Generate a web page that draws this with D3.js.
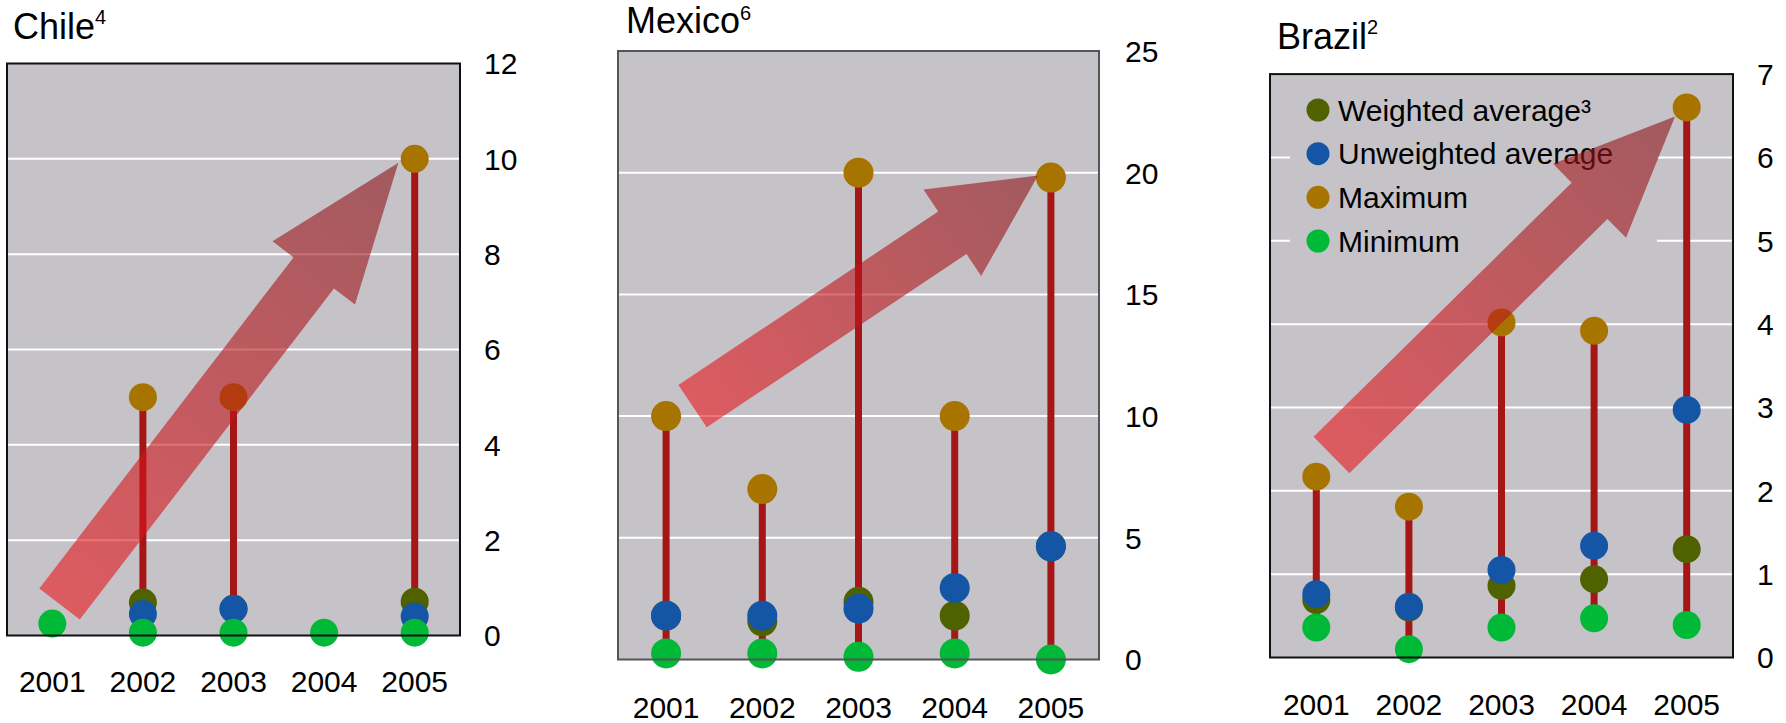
<!DOCTYPE html>
<html>
<head>
<meta charset="utf-8">
<script src="https://cdn.jsdelivr.net/npm/d3@7"></script>
<style>
  html, body { margin: 0; padding: 0; background: #ffffff; }
  svg { display: block; }
  text { font-family: "Liberation Sans", Arial, sans-serif; fill: #000; }
</style>
</head>
<body>
<svg id="chart" width="1786" height="723"></svg>
<script>
// Years shown on every panel
const years = ["2001", "2002", "2003", "2004", "2005"];

// Chile: tariff dispersion by year (null = not reported)
const chileWeighted   = [null, 0.69, 0.56, null, 0.71];
const chileUnweighted = [null, 0.45, 0.56, null, 0.40];
const chileMaximum    = [null, 5, 5, null, 10];
const chileMinimum    = [0.25, 0.06, 0.06, 0.06, 0.06];
const chileTicks      = [0, 2, 4, 6, 8, 10, 12];
const chileTrend      = [[0.08, 0.66], [3.82, 9.92]];

// Mexico
const mexicoWeighted   = [1.8, 1.57, 2.37, 1.8, 4.65];
const mexicoUnweighted = [1.8, 1.8, 2.09, 2.94, 4.65];
const mexicoMaximum    = [10, 7, 20, 10, 19.8];
const mexicoMinimum    = [0.25, 0.25, 0.11, 0.25, 0];
const mexicoTicks      = [0, 5, 10, 15, 20, 25];
const mexicoTrend      = [[0.275, 10.41], [3.866, 19.88]];

// Brazil
const brazilWeighted   = [0.69, 0.6, 0.86, 0.94, 1.3];
const brazilUnweighted = [0.76, 0.61, 1.05, 1.34, 2.97];
const brazilMaximum    = [2.17, 1.81, 4.02, 3.92, 6.6];
const brazilMinimum    = [0.36, 0.1, 0.36, 0.47, 0.39];
const brazilTicks      = [0, 1, 2, 3, 4, 5, 6, 7];
const brazilTrend      = [[0.164, 2.43], [3.874, 6.49]];

// Legend entries
const legendLabels = ["Weighted average³", "Unweighted average", "Maximum", "Minimum"];

const colors = {
  weighted: "#506100",
  unweighted: "#1455a6",
  maximum: "#a87400",
  minimum: "#00b936",
  stem: "#a61616",
  plotBg: "#c5c3c7",
  grid: "#ffffff"
};

const panels = [
  { name: "Chile", sup: "4", weighted: chileWeighted, unweighted: chileUnweighted,
    maximum: chileMaximum, minimum: chileMinimum, ticks: chileTicks, trend: chileTrend,
    box: { left: 7, right: 460, top: 63.5, bottom: 635.5 }, title: [13, 39.4], supRise: -15,
    tickX: 484, labelY: 692, r: 14, border: "#111", headLen: 139, legend: false },
  { name: "Mexico", sup: "6", weighted: mexicoWeighted, unweighted: mexicoUnweighted,
    maximum: mexicoMaximum, minimum: mexicoMinimum, ticks: mexicoTicks, trend: mexicoTrend,
    box: { left: 618, right: 1099, top: 51, bottom: 659.5 }, title: [626, 33], supRise: -13,
    tickX: 1125, labelY: 718, r: 15, border: "#555", headLen: 103, legend: false },
  { name: "Brazil", sup: "2", weighted: brazilWeighted, unweighted: brazilUnweighted,
    maximum: brazilMaximum, minimum: brazilMinimum, ticks: brazilTicks, trend: brazilTrend,
    box: { left: 1270, right: 1733, top: 74.1, bottom: 657.5 }, title: [1277, 48.7], supRise: -15,
    tickX: 1757, labelY: 715, r: 14, border: "#111", headLen: 120, legend: true }
];

const svg = d3.select("#chart");
const defs = svg.append("defs");

panels.forEach((p, pi) => {
  const b = p.box;
  const g = svg.append("g");
  const yMax = p.ticks[p.ticks.length - 1];

  const x = d3.scaleBand().domain(years).range([b.left, b.right]).padding(0);
  const y = d3.scaleLinear().domain([0, yMax]).range([b.bottom, b.top]);
  // fractional position along the year axis, used by the trend arrow
  const xi = d3.scaleLinear().domain([0, years.length - 1])
    .range([x(years[0]) + x.bandwidth() / 2, x(years[years.length - 1]) + x.bandwidth() / 2]);

  // plot background
  g.append("rect").attr("x", b.left).attr("y", b.top)
    .attr("width", b.right - b.left).attr("height", b.bottom - b.top)
    .attr("fill", colors.plotBg);

  // horizontal gridlines
  g.selectAll("line.grid").data(p.ticks.filter(t => t > 0 && t < yMax)).enter()
    .append("line").attr("class", "grid")
    .attr("x1", b.left).attr("x2", b.right)
    .attr("y1", d => y(d)).attr("y2", d => y(d))
    .attr("stroke", colors.grid).attr("stroke-width", 2);

  // legend (Brazil panel), its box hides the gridlines behind it
  if (p.legend) {
    const lg = g.append("g");
    lg.append("rect").attr("x", 1290).attr("y", 85).attr("width", 367).attr("height", 180)
      .attr("fill", colors.plotBg);
    const keys = ["weighted", "unweighted", "maximum", "minimum"];
    const ly = d3.scalePoint().domain(keys).range([110, 241]);
    keys.forEach((k, i) => {
      lg.append("circle").attr("cx", 1318).attr("cy", ly(k)).attr("r", 11.5)
        .attr("fill", colors[k]);
      lg.append("text").attr("x", 1338).attr("y", ly(k)).attr("dy", "0.36em")
        .style("font-size", "30px").text(legendLabels[i]);
    });
  }

  // stems from minimum to maximum
  const stems = years.map((yr, i) => ({ yr, lo: p.minimum[i], hi: p.maximum[i] }))
    .filter(d => d.lo != null && d.hi != null);
  g.selectAll("line.stem").data(stems).enter().append("line").attr("class", "stem")
    .attr("x1", d => x(d.yr) + x.bandwidth() / 2).attr("x2", d => x(d.yr) + x.bandwidth() / 2)
    .attr("y1", d => y(d.lo)).attr("y2", d => y(d.hi))
    .attr("stroke", colors.stem).attr("stroke-width", 7);

  // dots, drawn in series order
  ["weighted", "unweighted", "maximum", "minimum"].forEach(key => {
    const pts = years.map((yr, i) => ({ yr, v: p[key][i] })).filter(d => d.v != null);
    g.selectAll("circle." + key).data(pts).enter().append("circle").attr("class", key)
      .attr("cx", d => x(d.yr) + x.bandwidth() / 2).attr("cy", d => y(d.v))
      .attr("r", p.r).attr("fill", colors[key]);
  });

  // trend arrow
  const T = [xi(p.trend[0][0]), y(p.trend[0][1])];
  const P = [xi(p.trend[1][0]), y(p.trend[1][1])];
  const dx = P[0] - T[0], dy = P[1] - T[1];
  const len = Math.hypot(dx, dy);
  const u = [dx / len, dy / len];
  const n = [-u[1], u[0]];
  const shaft = 51, head = 104, hl = p.headLen;
  const B = [P[0] - u[0] * hl, P[1] - u[1] * hl];
  const pt = (base, k) => [base[0] + n[0] * k, base[1] + n[1] * k];
  const poly = [pt(T, shaft / 2), pt(B, shaft / 2), pt(B, head / 2), P,
                pt(B, -head / 2), pt(B, -shaft / 2), pt(T, -shaft / 2)];
  const gid = "trendGrad" + pi;
  const grad = defs.append("linearGradient").attr("id", gid)
    .attr("gradientUnits", "userSpaceOnUse")
    .attr("x1", T[0]).attr("y1", T[1]).attr("x2", P[0]).attr("y2", P[1]);
  grad.append("stop").attr("offset", "0%").attr("stop-color", "rgb(236,22,28)");
  grad.append("stop").attr("offset", "100%").attr("stop-color", "rgb(138,20,26)");
  g.append("path").attr("d", d3.line()(poly) + "Z")
    .attr("fill", `url(#${gid})`).attr("fill-opacity", 0.6);

  // frame
  g.append("rect").attr("x", b.left).attr("y", b.top)
    .attr("width", b.right - b.left).attr("height", b.bottom - b.top)
    .attr("fill", "none").attr("stroke", p.border).attr("stroke-width", 2);

  // right-hand value labels
  g.selectAll("text.tick").data(p.ticks).enter().append("text").attr("class", "tick")
    .attr("x", p.tickX).attr("y", d => y(d)).attr("dy", "0.36em")
    .style("font-size", "30px").text(d => d);

  // year labels
  g.selectAll("text.year").data(years).enter().append("text").attr("class", "year")
    .attr("x", d => x(d) + x.bandwidth() / 2).attr("y", p.labelY)
    .attr("text-anchor", "middle").style("font-size", "30px").text(d => d);

  // panel title with footnote mark
  const t = g.append("text").attr("x", p.title[0]).attr("y", p.title[1])
    .style("font-size", "36px");
  t.append("tspan").text(p.name);
  t.append("tspan").attr("dy", p.supRise).style("font-size", "20px").text(p.sup);
});
</script>
</body>
</html>
